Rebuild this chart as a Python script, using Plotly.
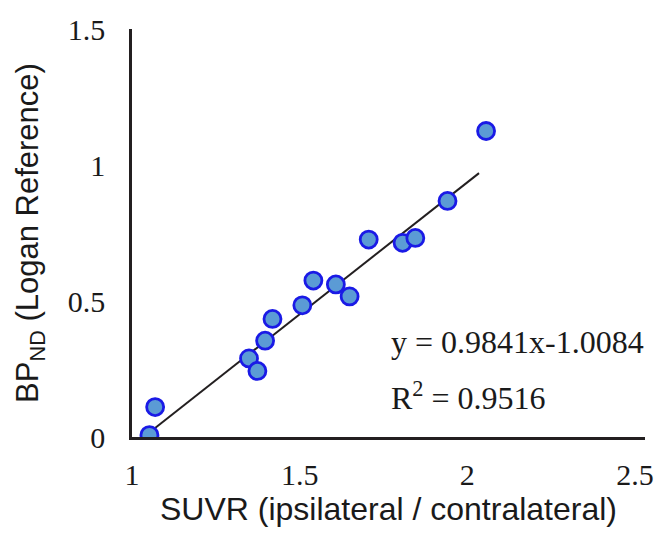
import plotly.graph_objects as go

suvr = [1.052, 1.069, 1.349, 1.374, 1.397, 1.419, 1.508, 1.541, 1.608, 1.649,
        1.706, 1.807, 1.845, 1.941, 2.056]
bpnd = [0.007, 0.110, 0.289, 0.243, 0.354, 0.434, 0.484, 0.575, 0.561, 0.517,
        0.726, 0.714, 0.732, 0.868, 1.125]

trend_x = [1.05, 2.035]
trend_y = [0.015, 0.97]

x_ticks = [1, 1.5, 2, 2.5]
x_tick_labels = ["1", "1.5", "2", "2.5"]
y_ticks = [0, 0.5, 1, 1.5]
y_tick_labels = ["0", "0.5", "1", "1.5"]

eq_text = "y = 0.9841x-1.0084"
r2_text = "R<sup>2</sup> = 0.9516"

serif = "Liberation Serif"
sans = "Liberation Sans"

fig = go.Figure()
fig.add_trace(go.Scatter(x=trend_x, y=trend_y, mode="lines",
                         line=dict(color="#231f20", width=2), showlegend=False,
                         hoverinfo="skip"))
fig.add_trace(go.Scatter(x=suvr, y=bpnd, mode="markers",
                         marker=dict(size=17, color="#5b9bd5",
                                     line=dict(color="#1a1ae6", width=2.8)),
                         showlegend=False))

fig.update_layout(
    width=668, height=537,
    margin=dict(l=132, r=23, t=23, b=100),
    plot_bgcolor="white", paper_bgcolor="white",
    xaxis=dict(range=[1, 2.53], tickvals=x_ticks, ticktext=x_tick_labels,
               showgrid=False, zeroline=False, showline=True,
               linecolor="#231f20", linewidth=2.5,
               ticks="outside", ticklen=9, tickcolor="rgba(0,0,0,0)",
               tickfont=dict(family=serif, size=30, color="#1a1a1a"),
               title=dict(text="SUVR (ipsilateral / contralateral)",
                          font=dict(family=sans, size=32, color="#1a1a1a"),
                          standoff=5)),
    yaxis=dict(range=[0, 1.5], tickvals=y_ticks, ticktext=y_tick_labels,
               showgrid=False, zeroline=False, showline=True,
               linecolor="#231f20", linewidth=2.5,
               ticks="outside", ticklen=18, tickcolor="rgba(0,0,0,0)",
               tickfont=dict(family=serif, size=30, color="#1a1a1a"),
               title=dict(text="BP<sub>ND</sub> (Logan Reference)",
                          font=dict(family=sans, size=31, color="#1a1a1a"),
                          standoff=20)),
    annotations=[
        dict(x=1.767, y=0.351, xref="x", yref="y", text=eq_text,
             showarrow=False, xanchor="left", yanchor="middle",
             font=dict(family=serif, size=32, color="#1a1a1a")),
        dict(x=1.767, y=0.149, xref="x", yref="y", text=r2_text,
             showarrow=False, xanchor="left", yanchor="middle",
             font=dict(family=serif, size=32, color="#1a1a1a")),
    ],
)

fig.write_html("out.html")
